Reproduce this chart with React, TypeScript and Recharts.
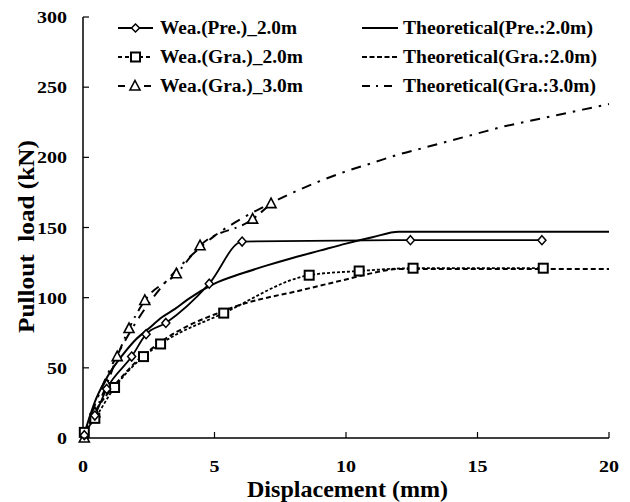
import React from "react";
import { LineChart, Line, XAxis, YAxis, Legend, Label } from "recharts";

const FONT = '"Liberation Serif", "Times New Roman", serif';

// measured series (x = displacement mm, y = pullout load kN)
const weaPreX = [0.05, 0.45, 0.9, 1.85, 2.4, 3.15, 4.8, 6.05, 12.45, 17.45];
const weaPreY = [2, 16, 35, 58, 74, 82, 110, 140, 141, 141];

const weaGra2X = [0.05, 0.45, 1.2, 2.3, 2.95, 5.35, 8.6, 10.5, 12.55, 17.5];
const weaGra2Y = [4, 14, 36, 58, 67, 89, 116, 119, 121, 121];

const weaGra3X = [0.05, 0.45, 0.9, 1.3, 1.75, 2.35, 3.55, 4.45, 6.45, 7.15];
const weaGra3Y = [0, 18, 38, 58, 78, 98, 117, 137, 156, 167];

// theoretical curves
const theoPreX = [0, 0.5, 1, 1.5, 2, 2.5, 3, 3.5, 4, 5, 6, 7, 8, 9, 10, 11, 12, 20];
const theoPreY = [0, 28, 46, 59, 70, 78, 86, 92, 99, 110, 117, 123, 128.5, 133.5, 138.5, 143, 147, 147];

const theoGra2X = [0, 0.5, 1, 1.5, 2, 2.5, 3, 4, 5, 6, 7, 8, 9, 10, 11, 12, 20];
const theoGra2Y = [0, 20, 33, 44, 54, 62, 69, 80, 88, 95, 100, 104, 108.5, 113, 117.5, 120.5, 120.5];

const theoGra3X = [0, 0.5, 1, 1.5, 2, 3, 4, 5, 6, 7, 8, 9, 10, 11, 12, 13, 14, 15, 16, 17, 18, 19, 20];
const theoGra3Y = [0, 26, 48, 66, 82, 108, 128, 144, 156, 166, 175, 183, 190, 196, 202, 207, 212, 217, 222, 226, 230, 234, 238];

const xTicks = [0, 5, 10, 15, 20];
const yTicks = [0, 50, 100, 150, 200, 250, 300];

const toPoints = (xs: number[], ys: number[]) => xs.map((x, i) => ({ x, y: ys[i] }));

const Diamond = (p: any) => {
  const { cx, cy, index } = p;
  return (
    <path
      key={`dia-${index}`}
      d={`M${cx},${cy - 4.5}L${cx + 4},${cy}L${cx},${cy + 4.5}L${cx - 4},${cy}Z`}
      fill="#fff"
      stroke="#000"
      strokeWidth={1.5}
    />
  );
};

const Square = (p: any) => {
  const { cx, cy, index } = p;
  return (
    <rect key={`sq-${index}`} x={cx - 4.5} y={cy - 4.5} width={9} height={9} fill="#fff" stroke="#000" strokeWidth={2} />
  );
};

const Triangle = (p: any) => {
  const { cx, cy, index } = p;
  return (
    <path
      key={`tri-${index}`}
      d={`M${cx},${cy - 5.5}L${cx + 5},${cy + 4}L${cx - 5},${cy + 4}Z`}
      fill="#fff"
      stroke="#000"
      strokeWidth={1.6}
    />
  );
};

// the reference font is drawn wide, so stretch the digits a little
const XTick = (p: any) => {
  const { x, y, payload } = p;
  const s = String(payload.value);
  return (
    <g>
      {payload.value !== 0 && <line x1={x} x2={x} y1={y} y2={y - 6} stroke="#000" strokeWidth={1.2} />}
      <text
        x={x - (s.length * 10) / 2}
        y={y + 34}
        textLength={s.length * 10}
        lengthAdjust="spacingAndGlyphs"
        fontFamily={FONT}
        fontWeight="bold"
        fontSize={17}
        fill="#000"
      >
        {s}
      </text>
    </g>
  );
};

const YTick = (p: any) => {
  const { x, y, payload } = p;
  const s = String(payload.value);
  return (
    <g>
      <line x1={x} x2={x + 6} y1={y} y2={y} stroke="#000" strokeWidth={1.2} />
      <text
        x={x - 16 - s.length * 10}
        y={y + 6}
        textLength={s.length * 10}
        lengthAdjust="spacingAndGlyphs"
        fontFamily={FONT}
        fontWeight="bold"
        fontSize={17}
        fill="#000"
      >
        {s}
      </text>
    </g>
  );
};

const renderLegend = () => {
  const txt = {
    fontFamily: FONT,
    fontWeight: "bold" as const,
    fontSize: 18,
    fill: "#000",
    lengthAdjust: "spacingAndGlyphs" as const,
  };
  return (
    <svg width={630} height={100}>
      {/* left column */}
      <line x1={118} x2={153} y1={28} y2={28} stroke="#000" strokeWidth={2} />
      <path d="M135.5,24L139.5,28L135.5,32L131.5,28Z" fill="#fff" stroke="#000" strokeWidth={1.5} />
      <text x={160} y={34} textLength={137} {...txt}>Wea.(Pre.)_2.0m</text>

      <line x1={118} x2={153} y1={57} y2={57} stroke="#000" strokeWidth={2} strokeDasharray="4 3" />
      <rect x={131} y={52.5} width={9} height={9} fill="#fff" stroke="#000" strokeWidth={2} />
      <text x={160} y={63} textLength={143} {...txt}>Wea.(Gra.)_2.0m</text>

      <line x1={118} x2={125} y1={86} y2={86} stroke="#000" strokeWidth={2} />
      <line x1={144} x2={151} y1={86} y2={86} stroke="#000" strokeWidth={2} />
      <path d="M135,80.5L140,90L130,90Z" fill="#fff" stroke="#000" strokeWidth={1.6} />
      <text x={160} y={91.5} textLength={143} {...txt}>Wea.(Gra.)_3.0m</text>

      {/* right column */}
      <line x1={362} x2={398} y1={28} y2={28} stroke="#000" strokeWidth={2} />
      <text x={403} y={34} textLength={190} {...txt}>Theoretical(Pre.:2.0m)</text>
      <line x1={362} x2={398} y1={57} y2={57} stroke="#000" strokeWidth={2} strokeDasharray="5 2.5" />
      <text x={403} y={63} textLength={194} {...txt}>Theoretical(Gra.:2.0m)</text>
      <line x1={362} x2={398} y1={86} y2={86} stroke="#000" strokeWidth={2} strokeDasharray="8 6 2 6" />
      <text x={403} y={91.5} textLength={193} {...txt}>Theoretical(Gra.:3.0m)</text>
    </svg>
  );
};

export default function App() {
  return (
    <div style={{ position: "absolute", left: 0, top: 0, width: 630, height: 502, background: "#fff" }}>
      <LineChart width={630} height={502} margin={{ top: 17, right: 21, bottom: 0, left: 23 }}>
        <XAxis
          type="number"
          dataKey="x"
          domain={[0, 20]}
          ticks={xTicks}
          height={64}
          tickSize={0}
          tickMargin={0}
          tickLine={false}
          axisLine={{ stroke: "#000", strokeWidth: 1.5 }}
          tick={<XTick />}
        >
          <Label
            content={(props: any) => {
              const vb = props.viewBox;
              const cx = vb.x + vb.width / 2 + 1.5;
              return (
                <text
                  x={cx - 100.5}
                  y={vb.y + 59}
                  textLength={201}
                  lengthAdjust="spacingAndGlyphs"
                  fontFamily={FONT}
                  fontWeight="bold"
                  fontSize={23}
                  fill="#000"
                >
                  Displacement (mm)
                </text>
              );
            }}
          />
        </XAxis>
        <YAxis
          type="number"
          dataKey="y"
          domain={[0, 300]}
          ticks={yTicks}
          width={60}
          tickSize={0}
          tickMargin={0}
          tickLine={false}
          axisLine={{ stroke: "#000", strokeWidth: 1.5 }}
          tick={<YTick />}
        >
          <Label
            content={(props: any) => {
              const vb = props.viewBox;
              const cy = vb.y + vb.height / 2 + 9;
              return (
                <text
                  x={34}
                  y={cy + 96.5}
                  transform={`rotate(-90 34 ${cy + 96.5})`}
                  textLength={193}
                  lengthAdjust="spacingAndGlyphs"
                  fontFamily={FONT}
                  fontWeight="bold"
                  fontSize={23}
                  fill="#000"
                  style={{ whiteSpace: "pre" }}
                >
                  {"Pullout  load (kN)"}
                </text>
              );
            }}
          />
        </YAxis>
        <Legend
          layout="horizontal"
          verticalAlign="middle"
          align="center"
          content={renderLegend}
          wrapperStyle={{ top: 0, left: 0, width: 630, height: 100 }}
        />
        <Line
          data={toPoints(theoGra3X, theoGra3Y)}
          dataKey="y"
          type="monotone"
          stroke="#000"
          strokeWidth={2}
          strokeDasharray="10 7 2.5 7"
          dot={false}
          activeDot={false}
          isAnimationActive={false}
        />
        <Line
          data={toPoints(theoGra2X, theoGra2Y)}
          dataKey="y"
          type="monotone"
          stroke="#000"
          strokeWidth={2}
          strokeDasharray="5 3"
          dot={false}
          activeDot={false}
          isAnimationActive={false}
        />
        <Line
          data={toPoints(theoPreX, theoPreY)}
          dataKey="y"
          type="monotone"
          stroke="#000"
          strokeWidth={2}
          dot={false}
          activeDot={false}
          isAnimationActive={false}
        />
        <Line
          data={toPoints(weaGra3X, weaGra3Y)}
          dataKey="y"
          type="monotone"
          stroke="#000"
          strokeWidth={2}
          strokeDasharray="9 6 2 6"
          dot={Triangle}
          activeDot={false}
          isAnimationActive={false}
        />
        <Line
          data={toPoints(weaGra2X, weaGra2Y)}
          dataKey="y"
          type="monotone"
          stroke="#000"
          strokeWidth={1.8}
          strokeDasharray="3 2"
          dot={Square}
          activeDot={false}
          isAnimationActive={false}
        />
        <Line
          data={toPoints(weaPreX, weaPreY)}
          dataKey="y"
          type="monotone"
          stroke="#000"
          strokeWidth={1.8}
          dot={Diamond}
          activeDot={false}
          isAnimationActive={false}
        />
      </LineChart>
    </div>
  );
}
